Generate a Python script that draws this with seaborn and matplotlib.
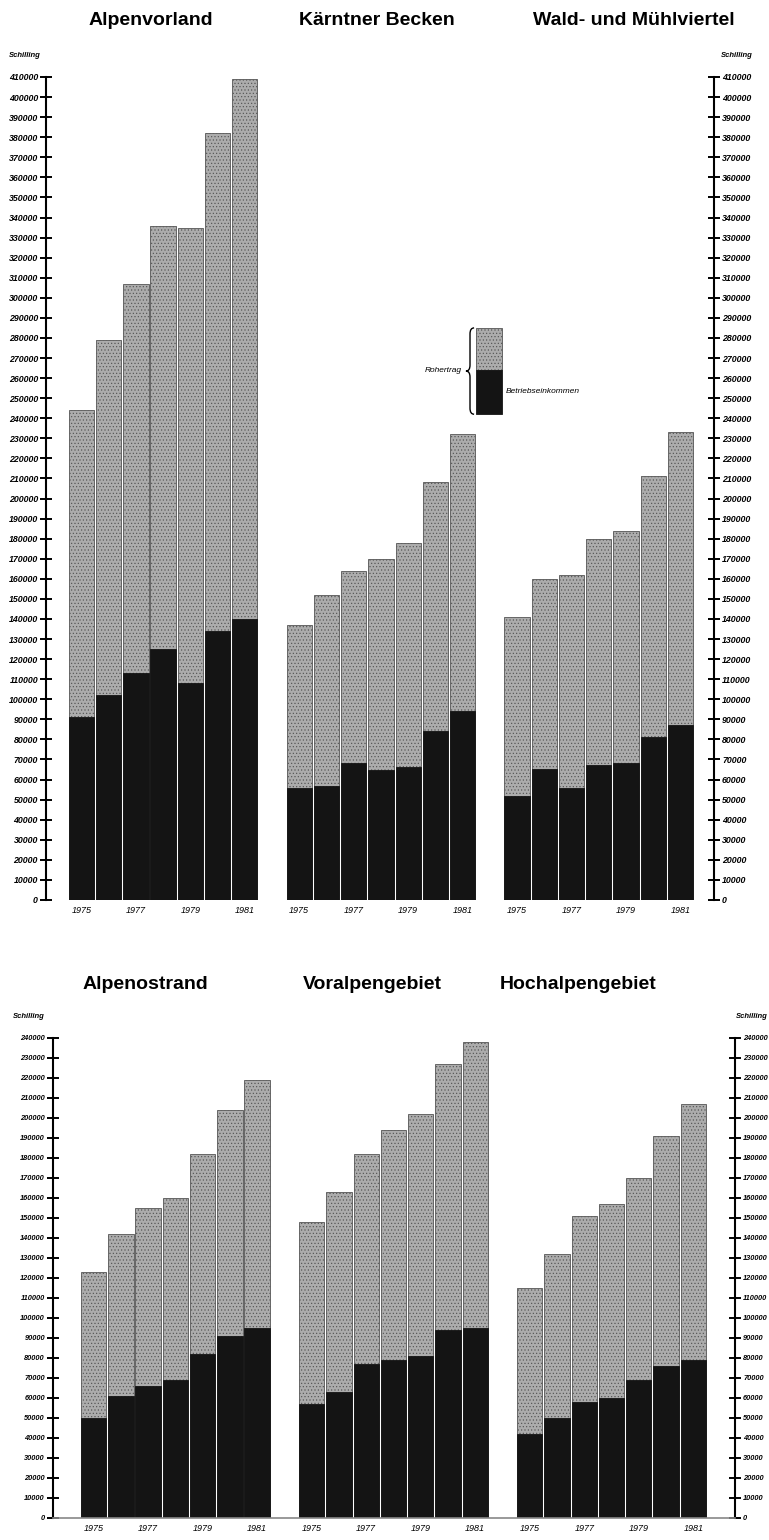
import numpy as np
import pandas as pd
import seaborn as sns
import matplotlib.pyplot as plt
from matplotlib.path import Path
from matplotlib.patches import PathPatch, Rectangle

# Rohertrag (total bar) and Betriebseinkommen (black part), Schilling per farm
years = [1975, 1976, 1977, 1978, 1979, 1980, 1981]
year_labels = ['1975', '1977', '1979', '1981']

top_regions = ['Alpenvorland', 'Kärntner Becken', 'Wald- und Mühlviertel']
top_rohertrag = [
    [244000, 279000, 307000, 336000, 335000, 382000, 409000],
    [137000, 152000, 164000, 170000, 178000, 208000, 232000],
    [141000, 160000, 162000, 180000, 184000, 211000, 233000],
]
top_betrieb = [
    [91000, 102000, 113000, 125000, 108000, 134000, 140000],
    [56000, 57000, 68000, 65000, 66000, 84000, 94000],
    [52000, 65500, 56000, 67000, 68000, 81000, 87000],
]

bottom_regions = ['Alpenostrand', 'Voralpengebiet', 'Hochalpengebiet']
bottom_rohertrag = [
    [123000, 142000, 155000, 160000, 182000, 204000, 219000],
    [148000, 163000, 182000, 194000, 202000, 227000, 238000],
    [115000, 132000, 151000, 157000, 170000, 191000, 207000],
]
bottom_betrieb = [
    [50000, 61000, 66000, 69000, 82000, 91000, 95000],
    [57000, 63000, 77000, 79000, 81000, 94000, 95000],
    [42000, 50000, 58000, 60000, 69000, 76000, 79000],
]

GREY = '#acacac'
BLACK = '#141414'
SMALL = ['Liberation Sans', 'DejaVu Sans']

sns.set_style('white')
plt.rcParams['font.family'] = ['Liberation Sans', 'DejaVu Sans']
plt.rcParams['text.color'] = 'black'
plt.rcParams['hatch.linewidth'] = 0.45
plt.rcParams['hatch.color'] = '#555555'


def frame(roh, betr):
    rows = []
    for g in range(len(roh)):
        for i, y in enumerate(years):
            rows.append({'pos': g * 8 + i, 'year': y,
                         'rohertrag': roh[g][i], 'betrieb': betr[g][i]})
    return pd.DataFrame(rows)


def draw(ax, df, ymax, xlim, baseline, tsize):
    sns.barplot(data=df, x='pos', y='rohertrag', native_scale=True, width=0.93,
                color=GREY, saturation=1, edgecolor='#555555', linewidth=0.6,
                hatch='.....', errorbar=None, ax=ax)
    sns.barplot(data=df, x='pos', y='betrieb', native_scale=True, width=0.93,
                color=BLACK, saturation=1, edgecolor=BLACK, linewidth=0.6,
                errorbar=None, ax=ax)
    ax.set_xlim(*xlim)
    ax.set_ylim(0, ymax)
    ax.set_xlabel('')
    ax.set_ylabel('')

    yt = np.arange(0, ymax + 1, 10000)
    ax.set_yticks(yt)
    ax.set_yticklabels([str(v) for v in yt], fontsize=tsize, fontstyle='italic',
                       fontweight='bold', family=SMALL, color='black')
    ax.tick_params(axis='y', direction='inout', length=8.5, width=1.4,
                   left=True, right=True, labelleft=True, labelright=True,
                   pad=1.5, colors='black')

    xt = [g * 8 + i for g in range(3) for i in (0, 2, 4, 6)]
    ax.set_xticks(xt)
    ax.set_xticklabels(year_labels * 3, fontsize=6.5, fontstyle='italic',
                       family=SMALL, color='black')
    ax.tick_params(axis='x', length=0, pad=4)

    for s in ('left', 'right'):
        ax.spines[s].set_linewidth(1.5)
        ax.spines[s].set_color('black')
    ax.spines['top'].set_visible(False)
    if baseline:
        ax.spines['bottom'].set_color('#888888')
        ax.spines['bottom'].set_linewidth(1.2)
    else:
        ax.spines['bottom'].set_visible(False)


fig = plt.figure(figsize=(7.69, 15.4), dpi=100)

ax_top = fig.add_axes([0.0598, 0.4156, 0.8687, 0.5344])
draw(ax_top, frame(top_rohertrag, top_betrieb), 410000, (-1.3, 23.23), False, 6.3)

ax_bot = fig.add_axes([0.0689, 0.0143, 0.8869, 0.3117])
draw(ax_bot, frame(bottom_rohertrag, bottom_betrieb), 240000, (-1.49, 23.53), True, 5.3)

# region titles
for name, x in zip(top_regions, [0.196, 0.49, 0.824]):
    fig.text(x, 0.987, name, ha='center', va='center', fontsize=14, fontweight='bold')
for name, x in zip(bottom_regions, [0.189, 0.484, 0.752]):
    fig.text(x, 0.3605, name, ha='center', va='center', fontsize=14, fontweight='bold')

# unit labels
sch = dict(fontsize=5.5, fontstyle='italic', fontweight='bold', family=SMALL,
           ha='center', va='center')
fig.text(0.0325, 0.964, 'Schilling', **sch)
fig.text(0.958, 0.964, 'Schilling', **sch)
fig.text(0.037, 0.340, 'Schilling', **sch)
fig.text(0.978, 0.340, 'Schilling', **sch)

# legend key: Rohertrag / Betriebseinkommen
ax_top.add_patch(Rectangle((14.5, 264000), 0.95, 21000, facecolor=GREY,
                           edgecolor='#555555', hatch='.....', linewidth=0.6))
ax_top.add_patch(Rectangle((14.5, 242000), 0.95, 22000, facecolor=BLACK,
                           edgecolor=BLACK, linewidth=0.6))
xl, xr = 14.12, 14.42
xm = (xl + xr) / 2
y0, y1 = 242000, 285000
ym = (y0 + y1) / 2
verts = [(xr, y1), (xm, y1), (xm, y1 - 3000), (xm, ym + 3000), (xm, ym), (xl, ym),
         (xm, ym), (xm, ym - 3000), (xm, y0 + 3000), (xm, y0), (xr, y0)]
codes = [Path.MOVETO, Path.CURVE3, Path.CURVE3, Path.LINETO, Path.CURVE3, Path.CURVE3,
         Path.CURVE3, Path.CURVE3, Path.LINETO, Path.CURVE3, Path.CURVE3]
ax_top.add_patch(PathPatch(Path(verts, codes), facecolor='none', edgecolor='black',
                           linewidth=1.0))
ax_top.text(13.98, 264000, 'Rohertrag', ha='right', va='center', fontsize=6,
            fontstyle='italic', family=SMALL)
ax_top.text(15.6, 253500, 'Betriebseinkommen', ha='left', va='center', fontsize=6,
            fontstyle='italic', family=SMALL)

plt.savefig('out.png', dpi=100)
